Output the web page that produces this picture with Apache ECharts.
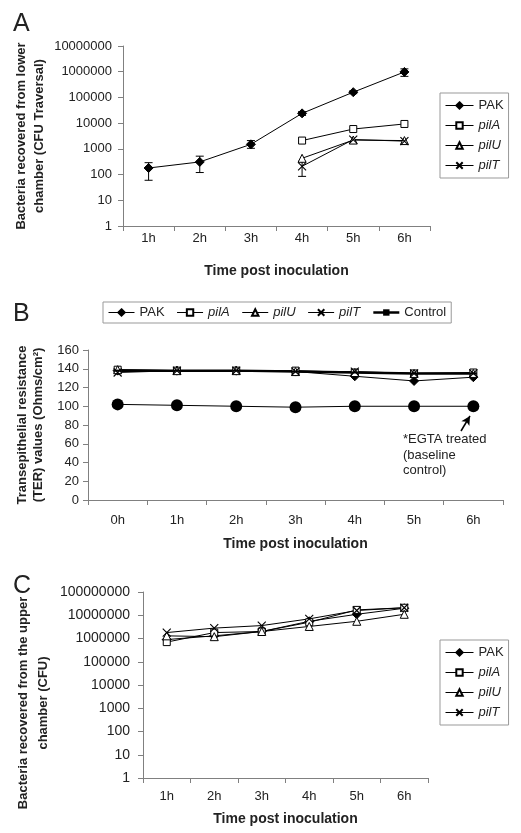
<!DOCTYPE html>
<html><head><meta charset="utf-8">
<script src="https://cdn.jsdelivr.net/npm/echarts@6/dist/echarts.min.js"></script>
<style>html,body{margin:0;padding:0;background:#fff}#c{width:521px;height:833px}</style>
</head><body><div id="c"></div>
<script>
// ---------- Panel A: lower chamber (CFU traversal), log scale ----------
const hoursA = ['1h','2h','3h','4h','5h','6h'];
const pakA = [180, 310, 1500, 24000, 160000, 980000];
const pakALow = [60, 120, 1050, 20000, 140000, 660000];
const pakAHigh = [290, 520, 2100, 28000, 180000, 1290000];
const pilAA = [null, null, null, 2100, 5900, 9300];
const pilUA = [null, null, null, 430, 2200, 2100];
const pilTA = [null, null, null, 210, 2300, 2000];
const pilTALow = [null, null, null, 85, null, null];
const pilTAHigh = [null, null, null, 330, null, null];

// ---------- Panel B: TER values ----------
const hoursB = ['0h','1h','2h','3h','4h','5h','6h'];
const pakB = [138, 138, 138, 137, 132, 127, 131];
const pilAB = [139, 138, 138, 138, 136, 135, 136];
const pilUB = [139, 138, 138, 137, 136, 135, 135];
const pilTB = [136, 138, 138, 137, 137, 135, 135];
const controlB = [138, 138, 138, 137, 136, 135, 135];
const egtaB = [102, 101, 100, 99, 100, 100, 100];

// ---------- Panel C: upper chamber (CFU), log scale ----------
const hoursC = ['1h','2h','3h','4h','5h','6h'];
const pakC = [900000, 1300000, 2000000, 5500000, 11000000, 20000000];
const pilAC = [700000, 1800000, 2000000, 5000000, 17000000, 21000000];
const pilUC = [1300000, 1200000, 2000000, 3300000, 5500000, 11000000];
const pilTC = [1800000, 2800000, 3600000, 7000000, 16000000, 21000000];

const FONT = 'Liberation Sans';
const AX = '#808080';
const TXT = '#222';

const chart = echarts.init(document.getElementById('c'), null, {renderer: 'canvas'});

const styles = {
  'PAK': {symbol: 'diamond', symbolSize: 9, itemStyle: {color: '#000', borderColor: '#000', borderWidth: 1}},
  'pilA': {symbol: 'rect', symbolSize: 7, itemStyle: {color: '#fff', borderColor: '#000', borderWidth: 1}},
  'pilU': {symbol: 'triangle', symbolSize: 8, itemStyle: {color: '#fff', borderColor: '#000', borderWidth: 1}},
  'pilT': {symbol: 'path://M0,0L10,10M10,0L0,10', symbolSize: 8, itemStyle: {color: '#fff', borderColor: '#000', borderWidth: 1.1}},
  'Control': {symbol: 'rect', symbolSize: [7, 2], itemStyle: {color: '#000', borderColor: '#000', borderWidth: 0}}
};

function lineSeries(name, data, idx, width) {
  const s = styles[name];
  return {
    type: 'line', name: name, data: data, xAxisIndex: idx, yAxisIndex: idx,
    symbol: s.symbol, symbolSize: s.symbolSize, showAllSymbol: true,
    itemStyle: s.itemStyle, lineStyle: {color: '#000', width: width || 1},
    z: 3, silent: true, animation: false
  };
}

function errSeries(cats, low, high, idx) {
  const data = [];
  cats.forEach((c, i) => { if (low[i] != null) data.push([c, low[i], high[i]]); });
  return {
    type: 'custom', xAxisIndex: idx, yAxisIndex: idx, data: data, z: 2, silent: true, animation: false,
    renderItem: function (params, api) {
      const lo = api.coord([api.value(0), api.value(1)]);
      const hi = api.coord([api.value(0), api.value(2)]);
      const w = 4;
      const st = {stroke: '#000', lineWidth: 1};
      return {type: 'group', children: [
        {type: 'line', shape: {x1: lo[0], y1: lo[1], x2: hi[0], y2: hi[1]}, style: st},
        {type: 'line', shape: {x1: lo[0] - w, y1: lo[1], x2: lo[0] + w, y2: lo[1]}, style: st},
        {type: 'line', shape: {x1: hi[0] - w, y1: hi[1], x2: hi[0] + w, y2: hi[1]}, style: st}
      ]};
    }
  };
}

const legendText = {
  fontFamily: FONT, fontSize: 13, color: TXT,
  rich: {i: {fontFamily: FONT, fontSize: 13, fontStyle: 'italic', color: TXT}}
};
const legendFmt = n => (n === 'PAK' || n === 'Control') ? n : '{i|' + n + '}';
const legendLine = {width: 1};

function xAxisCfg(cats, idx, margin, nameGap) {
  return {
    type: 'category', gridIndex: idx, data: cats, boundaryGap: true,
    axisLine: {show: true, lineStyle: {color: AX, width: 1}},
    axisTick: {show: true, length: 5, lineStyle: {color: AX}},
    axisLabel: {fontFamily: FONT, fontSize: 13, color: TXT, margin: margin},
    splitLine: {show: false},
    name: 'Time post inoculation', nameLocation: 'middle', nameGap: nameGap, nameMoveOverlap: false,
    nameTextStyle: {fontFamily: FONT, fontSize: 14, fontWeight: 'bold', color: TXT}
  };
}

const option = {
  animation: false,
  backgroundColor: '#fff',
  title: [
    {text: 'A', left: 13, top: 12, padding: 0, textStyle: {fontFamily: FONT, fontSize: 25, fontWeight: 'normal', color: TXT}},
    {text: 'B', left: 13, top: 302, padding: 0, textStyle: {fontFamily: FONT, fontSize: 25, fontWeight: 'normal', color: TXT}},
    {text: 'C', left: 13, top: 574, padding: 0, textStyle: {fontFamily: FONT, fontSize: 25, fontWeight: 'normal', color: TXT}}
  ],
  grid: [
    {left: 123, right: 91, top: 46, bottom: 607, containLabel: false},
    {left: 88, right: 18, top: 350, bottom: 333, containLabel: false},
    {left: 143, right: 93, top: 592, bottom: 55, containLabel: false}
  ],
  legend: [
    {orient: 'vertical', left: 440, top: 93, padding: [6, 5, 6, 5], itemGap: 7, itemWidth: 28, itemHeight: 8,
     borderColor: '#999', borderWidth: 1, lineStyle: legendLine, data: ['PAK', 'pilA', 'pilU', 'pilT'],
     formatter: legendFmt, textStyle: legendText, selectedMode: false},
    {orient: 'horizontal', left: 103, top: 302, padding: [4, 5, 4, 5], itemGap: 12, itemWidth: 26, itemHeight: 8,
     borderColor: '#999', borderWidth: 1,
     data: ['PAK', 'pilA', 'pilU', 'pilT', {name: 'Control', lineStyle: {width: 2.5}}],
     lineStyle: legendLine,
     formatter: legendFmt, textStyle: legendText, selectedMode: false},
    {orient: 'vertical', left: 440, top: 640, padding: [6, 5, 6, 5], itemGap: 7, itemWidth: 28, itemHeight: 8,
     borderColor: '#999', borderWidth: 1, lineStyle: legendLine, data: ['PAK', 'pilA', 'pilU', 'pilT'],
     formatter: legendFmt, textStyle: legendText, selectedMode: false}
  ],
  xAxis: [
    xAxisCfg(hoursA, 0, 6, 38),
    xAxisCfg(hoursB, 1, 14, 37),
    xAxisCfg(hoursC, 2, 12, 34)
  ],
  yAxis: [
    {type: 'log', logBase: 10, gridIndex: 0, min: 1, max: 10000000,
     axisLine: {show: true, lineStyle: {color: AX}}, axisTick: {show: true, length: 5, lineStyle: {color: AX}},
     splitLine: {show: false}, minorTick: {show: false},
     axisLabel: {fontFamily: FONT, fontSize: 13, color: TXT, margin: 11, formatter: v => String(Math.round(v))},
     name: 'Bacteria recovered from lower\nchamber (CFU Traversal)', nameLocation: 'middle', nameRotate: 90, nameGap: 75,
     nameMoveOverlap: false,
     nameTextStyle: {fontFamily: FONT, fontSize: 13, fontWeight: 'bold', color: TXT, lineHeight: 18, align: 'center'}},
    {type: 'value', gridIndex: 1, min: 0, max: 160, interval: 20,
     axisLine: {show: true, lineStyle: {color: AX}}, axisTick: {show: true, length: 5, lineStyle: {color: AX}},
     splitLine: {show: false},
     axisLabel: {fontFamily: FONT, fontSize: 13, color: TXT, margin: 9},
     name: 'Transepithelial resistance\n(TER) values (Ohms/cm²)', nameLocation: 'middle', nameRotate: 90, nameGap: 42,
     nameMoveOverlap: false,
     nameTextStyle: {fontFamily: FONT, fontSize: 13, fontWeight: 'bold', color: TXT, lineHeight: 16, align: 'center'}},
    {type: 'log', logBase: 10, gridIndex: 2, min: 1, max: 100000000,
     axisLine: {show: true, lineStyle: {color: AX}}, axisTick: {show: true, length: 5, lineStyle: {color: AX}},
     splitLine: {show: false}, minorTick: {show: false},
     axisLabel: {fontFamily: FONT, fontSize: 14, color: TXT, margin: 13, formatter: v => String(Math.round(v))},
     name: 'Bacteria recovered from the upper\nchamber (CFU)', nameLocation: 'middle', nameRotate: 90, nameGap: 90,
     nameMoveOverlap: false,
     nameTextStyle: {fontFamily: FONT, fontSize: 13, fontWeight: 'bold', color: TXT, lineHeight: 20, align: 'center', padding: [0, 0, 0, -36]}}
  ],
  graphic: [
    {type: 'text', left: 403, top: 432, silent: true,
     style: {text: '*EGTA treated\n(baseline\ncontrol)', fontFamily: FONT, fontSize: 13, lineHeight: 15.5, fill: TXT}}
  ],
  series: [
    // Panel A
    errSeries(hoursA, pakALow, pakAHigh, 0),
    errSeries(hoursA, pilTALow, pilTAHigh, 0),
    lineSeries('PAK', pakA, 0),
    lineSeries('pilA', pilAA, 0),
    lineSeries('pilU', pilUA, 0),
    lineSeries('pilT', pilTA, 0),
    // Panel B
    lineSeries('PAK', pakB, 1),
    lineSeries('pilA', pilAB, 1),
    lineSeries('pilU', pilUB, 1),
    lineSeries('pilT', pilTB, 1),
    lineSeries('Control', controlB, 1, 2.5),
    {type: 'line', name: '*EGTA treated', data: egtaB, xAxisIndex: 1, yAxisIndex: 1,
     symbol: 'circle', symbolSize: 12, itemStyle: {color: '#000'}, lineStyle: {color: '#000', width: 1},
     z: 3, silent: true, animation: false,
     markLine: {silent: true, symbol: ['none', 'arrow'], symbolSize: [7, 9], label: {show: false},
       lineStyle: {color: '#000', width: 1.5, type: 'solid'},
       data: [[{x: 461, y: 431}, {x: 470, y: 416}]]}},
    // Panel C
    lineSeries('PAK', pakC, 2),
    lineSeries('pilA', pilAC, 2),
    lineSeries('pilU', pilUC, 2),
    lineSeries('pilT', pilTC, 2)
  ]
};
chart.setOption(option);
</script></body></html>
